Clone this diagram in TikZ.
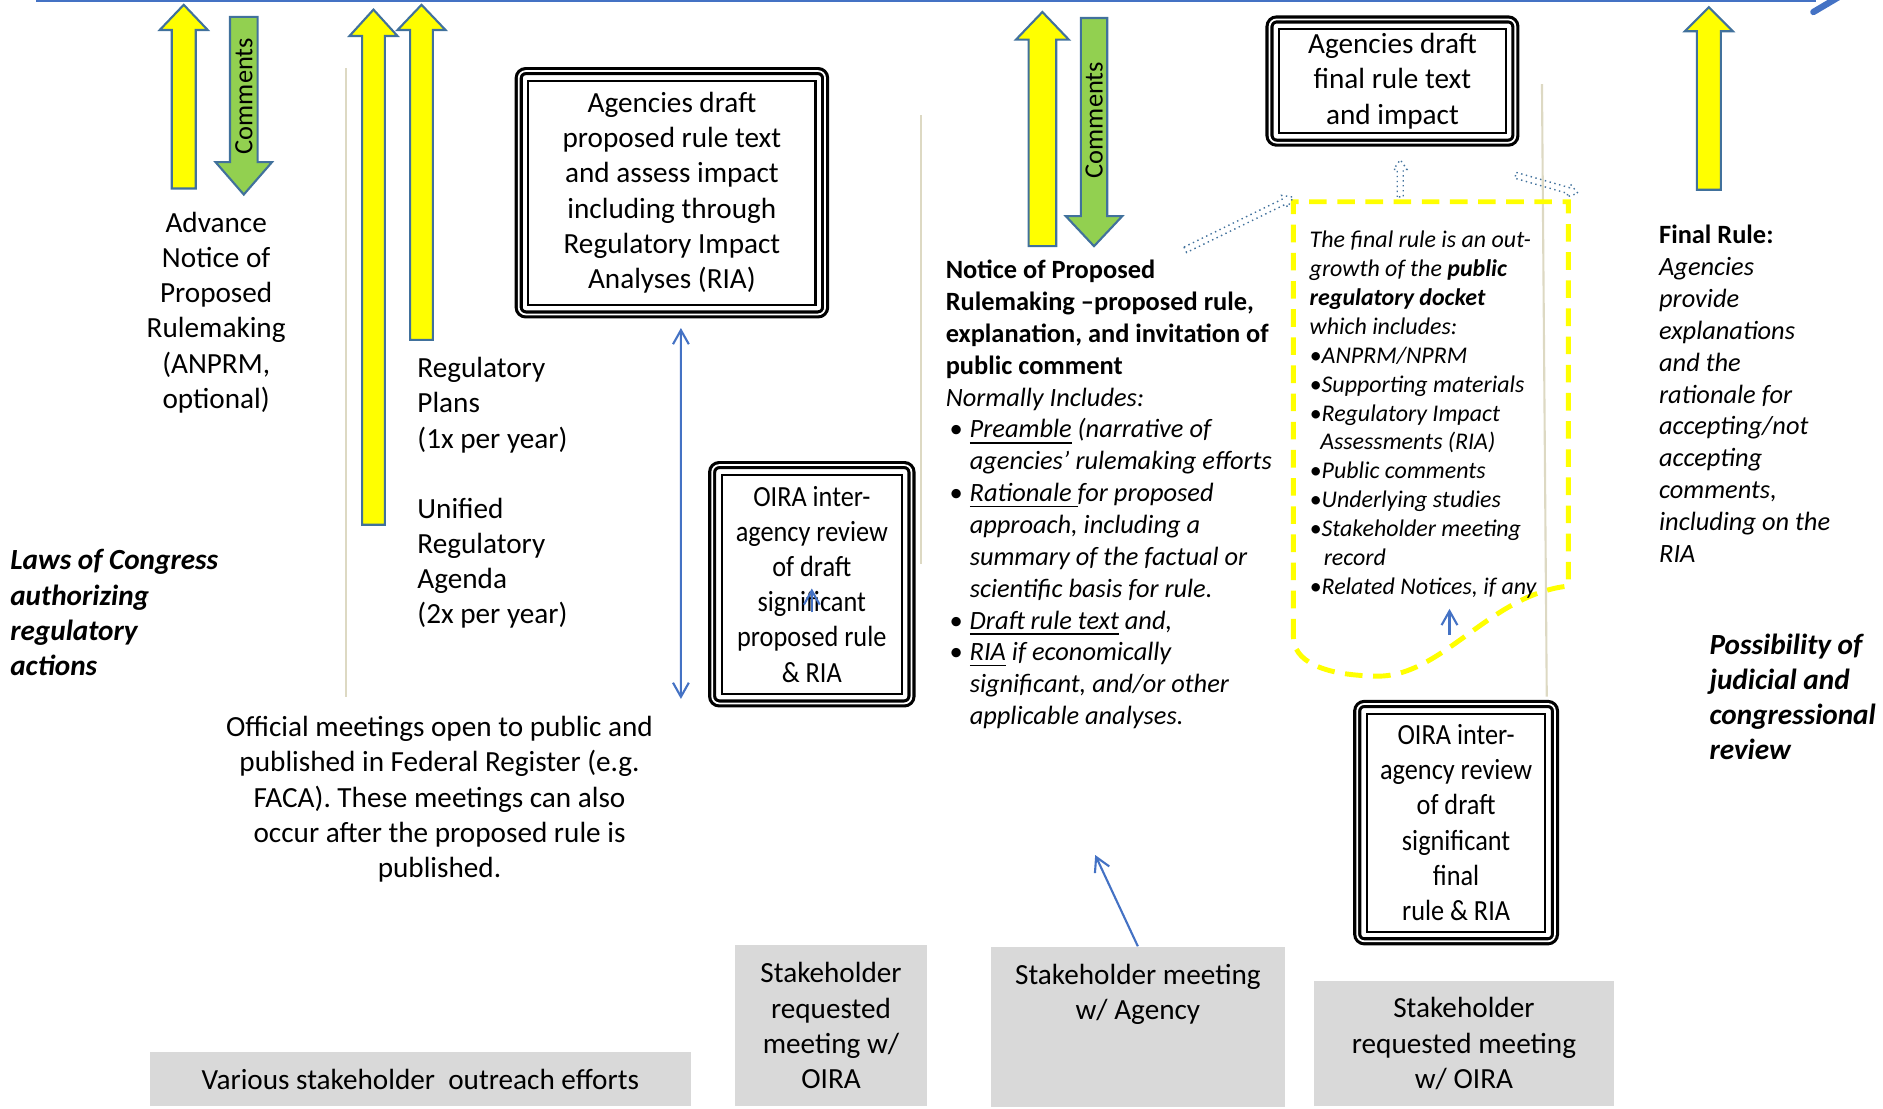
\documentclass[tikz,border=0pt]{standalone}
\usepackage{fontspec}
\setmainfont{Carlito}
\newfontfamily\narrowfont[FakeStretch=0.9]{Carlito}
\usetikzlibrary{arrows.meta}
\definecolor{lineblue}{HTML}{4472C4}
\definecolor{edgeblue}{HTML}{41719C}
\definecolor{arryellow}{HTML}{FFFF00}
\definecolor{arrgreen}{HTML}{92D050}
\definecolor{boxgray}{HTML}{D9D9D9}
\definecolor{tanline}{HTML}{DDD9C3}
\newcommand{\bigfont}{\fontsize{8.3}{10}\selectfont}
\newcommand{\midfont}{\fontsize{7.5}{9.05}\selectfont}
\newcommand{\smallfont}{\fontsize{6.8}{8.2}\selectfont}
\newcommand{\bul}{\hspace*{1pt}\makebox[5.8pt][l]{\textbullet}}
\newcommand{\ind}{\hspace*{6.8pt}}
\newcommand{\dbul}{\makebox[3.4pt][l]{\textbullet}}
\tikzset{>={Straight Barb[length=4pt,width=4.5pt]}}
\tikzset{
  frame/.style={draw, line width=0.9pt, double=white, double distance=0.5pt, rounded corners=2pt,
    align=center, inner sep=0pt, font=\bigfont,
    path picture={\draw[black, line width=0.6pt, sharp corners]
      ([shift={(8,8)}]path picture bounding box.north west) rectangle
      ([shift={(-8,-8)}]path picture bounding box.south east);}},
  graybox/.style={fill=boxgray, inner sep=0pt, align=center, font=\bigfont},
  textblock/.style={inner sep=0pt, align=left, anchor=north west},
  link/.style={draw=lineblue, line width=0.6pt, ->},
  divider/.style={draw=tanline, line width=0.6pt},
  docketline/.style={draw=arryellow, line width=1.4pt, dash pattern=on 5pt off 3pt},
  blockedge/.style={draw=edgeblue, line width=0.6pt, line join=miter},
  pics/blockarrow/.style n args={5}{code={
    \filldraw[blockedge, fill=#5] (0,0) -- (#2,#3) -- (#1,#3) -- (#1,#4) -- (-#1,#4) -- (-#1,#3) -- (-#2,#3) -- cycle;
  }},
  pics/hollowarrow/.style={code={
    \draw[edgeblue, densely dotted, line width=0.4pt] (0,-2.5) -- (#1-8,-2.5) -- (#1-8,-5.5) -- (#1,0) -- (#1-8,5.5) -- (#1-8,2.5) -- (0,2.5) -- cycle;
  }}
}

\begin{document}
\begin{tikzpicture}[x=0.012cm, y=-0.012cm]
\useasboundingbox (0,0) rectangle (1568,923);
\coordinate (tstart) at (30,1);
\coordinate (tend) at (1512,1);
\draw[lineblue, line width=0.7pt] (tstart) -- (tend);
\draw[lineblue, line width=1.8pt, line cap=round] (1510,10) -- (1532,-3);

\draw[divider] (288,57) -- (288,580);
\draw[divider] (767,96) -- (767,470);
\draw[divider] (1284,70) -- (1288,580);

\pic at (153,4) {blockarrow={10}{20}{21}{153}{arryellow}};
\pic[rotate=180] at (203,162) {blockarrow={11.5}{23.5}{27}{148}{arrgreen}};
\node[rotate=90, font=\midfont, inner sep=0pt] (cmt1) at (203,80) {Comments};
\pic at (311,8) {blockarrow={9.5}{20}{22}{429}{arryellow}};
\pic at (351,4) {blockarrow={9.5}{20}{21}{279}{arryellow}};
\pic at (868,10) {blockarrow={11.5}{22}{23}{195}{arryellow}};
\pic[rotate=180] at (911,205) {blockarrow={11}{23.5}{25}{190}{arrgreen}};
\node[rotate=90, font=\midfont, inner sep=0pt] (cmt2) at (911,100) {Comments};
\pic at (1423,6) {blockarrow={10}{20}{20}{152}{arryellow}};

\node[textblock, anchor=north, align=center, font=\bigfont] (anprm) at (180,176) {Advance\\Notice of\\Proposed\\Rulemaking\\(ANPRM,\\optional)};
\node[textblock, font=\bigfont] (plans) at (347,297) {Regulatory\\Plans\\(1x per year)};
\node[textblock, font=\bigfont] (agenda) at (347,414) {Unified\\Regulatory\\Agenda\\(2x per year)};
\node[textblock, font=\bigfont\bfseries\itshape] (laws) at (8,457) {Laws of Congress\\authorizing\\regulatory\\actions};

\node[frame, minimum width=3.06cm, minimum height=2.43cm] (propbox) at (559.5,160.5) {Agencies draft\\proposed rule text\\and assess impact\\including through\\Regulatory Impact\\Analyses (RIA)};
\node[frame, font=\narrowfont\bigfont, minimum width=1.99cm, minimum height=2.38cm] (oira1) at (676,486.5) {OIRA inter-\\agency review\\of draft\\significant\\proposed rule\\\& RIA};
\node[textblock, anchor=north, align=center, font=\bigfont] (meetings) at (366,596) {Official meetings open to public and\\published in Federal Register (e.g.\\FACA). These meetings can also\\occur after the proposed rule is\\published.};

\node[graybox, minimum width=5.4cm, minimum height=0.54cm] (outreach) at (350,898.5) {Various stakeholder\ \ outreach efforts};
\node[graybox, minimum width=1.92cm, minimum height=1.608cm] (oiramt1) at (692,854) {Stakeholder\\requested\\meeting w/\\OIRA};
\node[graybox, minimum width=2.94cm, minimum height=1.596cm, anchor=north] (agencymeet) at (947.5,788) {};
\node[textblock, anchor=north, align=center, font=\bigfont] (agencytxt) at (947.5,802) {Stakeholder meeting\\w/ Agency};
\node[graybox, minimum width=3.0cm, minimum height=1.248cm] (oiramt2) at (1219,869) {Stakeholder\\requested meeting\\w/ OIRA};

\node[textblock, font=\midfont\itshape] (nprm) at (787,216) {%
\textup{\textbf{Notice of Proposed}}\\
\textup{\textbf{Rulemaking –proposed rule,}}\\
\textup{\textbf{explanation, and invitation of}}\\
\textup{\textbf{public comment}}\\
Normally Includes:\\
\bul\underline{Preamble} (narrative of\\
\ind agencies’ rulemaking efforts\\
\bul\underline{Rationale }for proposed\\
\ind approach, including a\\
\ind summary of the factual or\\
\ind scientific basis for rule.\\
\bul\underline{Draft rule text} and,\\
\bul\underline{RIA} if economically\\
\ind significant, and/or other\\
\ind applicable analyses.};

\node[frame, minimum width=2.455cm, minimum height=1.23cm] (finalbox) at (1159.5,67.5) {Agencies draft\\final rule text\\and impact};

\draw[docketline] (1077,530) -- (1077,168) -- (1306,168) -- (1306,488) .. controls (1240,495) and (1200,565) .. (1145,563) .. controls (1100,562) and (1077,550) .. (1077,530);
\node[textblock, font=\smallfont\itshape] (docket) at (1090,192) {%
The final rule is an out-\\
growth of the \textbf{public}\\
\textbf{regulatory docket}\\
which includes:\\
\dbul ANPRM/NPRM\\
\dbul Supporting materials\\
\dbul Regulatory Impact\\
\hspace*{3pt}Assessments (RIA)\\
\dbul Public comments\\
\dbul Underlying studies\\
\dbul Stakeholder meeting\\
\hspace*{4pt}record\\
\dbul Related Notices, if any};

\pic[rotate=26] at (987,208) {hollowarrow=100};
\pic[rotate=90] at (1166,164) {hollowarrow=31};
\pic[rotate=-16] at (1262,146) {hollowarrow=54};

\node[frame, font=\narrowfont\bigfont, minimum width=1.975cm, minimum height=2.37cm] (oira2) at (1212.5,685) {OIRA inter-\\agency review\\of draft\\significant\\final\\rule \& RIA};

\node[textblock, font=\midfont\itshape] (finalrule) at (1381,187) {\textup{\textbf{Final Rule:}}\\Agencies\\provide\\explanations\\and the\\rationale for\\accepting/not\\accepting\\comments,\\including on the\\RIA};
\node[textblock, font=\bigfont\bfseries\itshape] (review) at (1423,527) {Possibility of\\judicial and\\congressional\\review};

\coordinate (reviewend) at (567,582);
\draw[link, <->] ([shift={(7.5,10)}]propbox.south) -- (reviewend);
\draw[link] ([shift={(0,23.5)}]oira1.center) -- ([shift={(0,3.5)}]oira1.center);
\coordinate (agencyhead) at (912,712);
\draw[link] (agencymeet.north) -- (agencyhead);
\coordinate (dockethead) at (1207,507);
\draw[link] ([shift={(-5.5,-56)}]oira2.north) -- (dockethead);
\end{tikzpicture}
\end{document}
